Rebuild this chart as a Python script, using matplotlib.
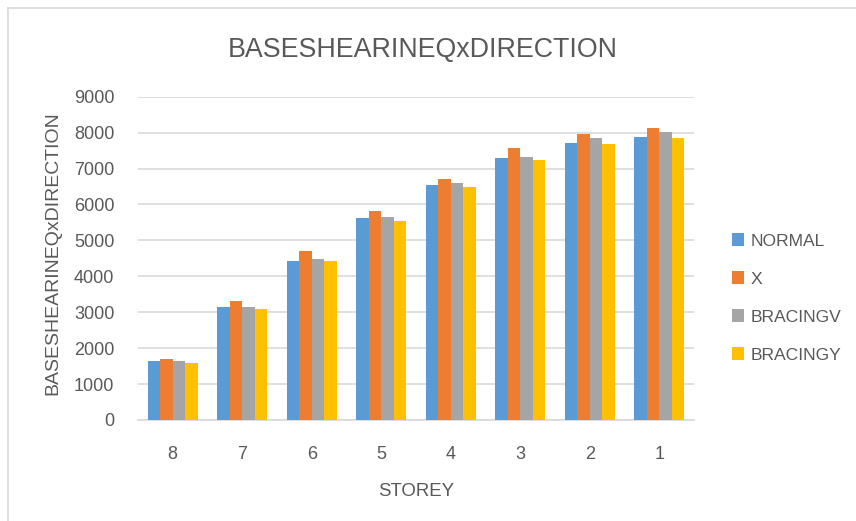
import matplotlib
matplotlib.use("Agg")
import matplotlib.pyplot as plt
import numpy as np
from matplotlib.lines import Line2D

storeys = ["8", "7", "6", "5", "4", "3", "2", "1"]
normal = [1640, 3150, 4430, 5610, 6555, 7280, 7725, 7890]
x_brace = [1710, 3315, 4710, 5830, 6720, 7560, 7960, 8115]
bracing_v = [1640, 3150, 4485, 5655, 6610, 7335, 7840, 8005]
bracing_y = [1590, 3090, 4430, 5550, 6500, 7225, 7670, 7840]
series_names = ["NORMAL", "X", "BRACINGV", "BRACINGY"]
colors = ["#5B9BD5", "#ED7D31", "#A5A5A5", "#FFC000"]
yticks = [0, 1000, 2000, 3000, 4000, 5000, 6000, 7000, 8000, 9000]

plt.rcParams['font.family'] = ['Liberation Sans', 'DejaVu Sans']

fig = plt.figure(figsize=(8.56, 5.21), dpi=100)
W, H = 856, 521
ax = fig.add_axes([138 / W, 1 - 420 / H, (694 - 138) / W, (420 - 96.7) / H])

# outer chart border (left and top edges visible)
fig.lines.append(Line2D([8 / W, 8 / W], [0, 1 - 8 / H], transform=fig.transFigure,
                        color="#D9D9D9", linewidth=1.2))
fig.lines.append(Line2D([8 / W, 1], [1 - 8 / H, 1 - 8 / H], transform=fig.transFigure,
                        color="#D9D9D9", linewidth=1.2))

series = [normal, x_brace, bracing_v, bracing_y]
x = np.arange(len(storeys))
bw = 0.18
for i, (vals, name, c) in enumerate(zip(series, series_names, colors)):
    ax.bar(x + (i - 1.5) * bw, vals, width=bw, color=c, label=name, zorder=3)

ax.set_xlim(-0.5, len(storeys) - 0.5)
ax.set_ylim(0, 9000)
ax.set_yticks(yticks)
ax.set_xticks(x)
ax.set_xticklabels(storeys)
ax.yaxis.grid(True, color="#D9D9D9", linewidth=1.2, zorder=0)
for s in ["top", "right", "left"]:
    ax.spines[s].set_visible(False)
ax.spines["bottom"].set_color("#D9D9D9")
ax.spines["bottom"].set_linewidth(1.2)
ax.tick_params(axis="both", length=0, labelsize=13, labelcolor="#595959")
ax.tick_params(axis="y", pad=17)
ax.tick_params(axis="x", pad=19)

ax.set_xlabel("STOREY", fontsize=13.4, color="#595959", labelpad=14)
ax.set_ylabel("BASESHEARINEQxDIRECTION", fontsize=14, color="#595959")
ax.yaxis.set_label_coords(-0.137, 0.515)
fig.text(423 / W, 1 - 50 / H, "BASESHEARINEQxDIRECTION", ha="center", va="center",
         fontsize=19.3, color="#595959")

ax.legend(loc="center left", bbox_to_anchor=(716 / W, 1 - 298 / H), bbox_transform=fig.transFigure,
          frameon=False, fontsize=12.6, labelcolor="#595959", handlelength=0.7, handleheight=0.7,
          labelspacing=1.3, handletextpad=0.4)

fig.savefig("out.png", dpi=100)
